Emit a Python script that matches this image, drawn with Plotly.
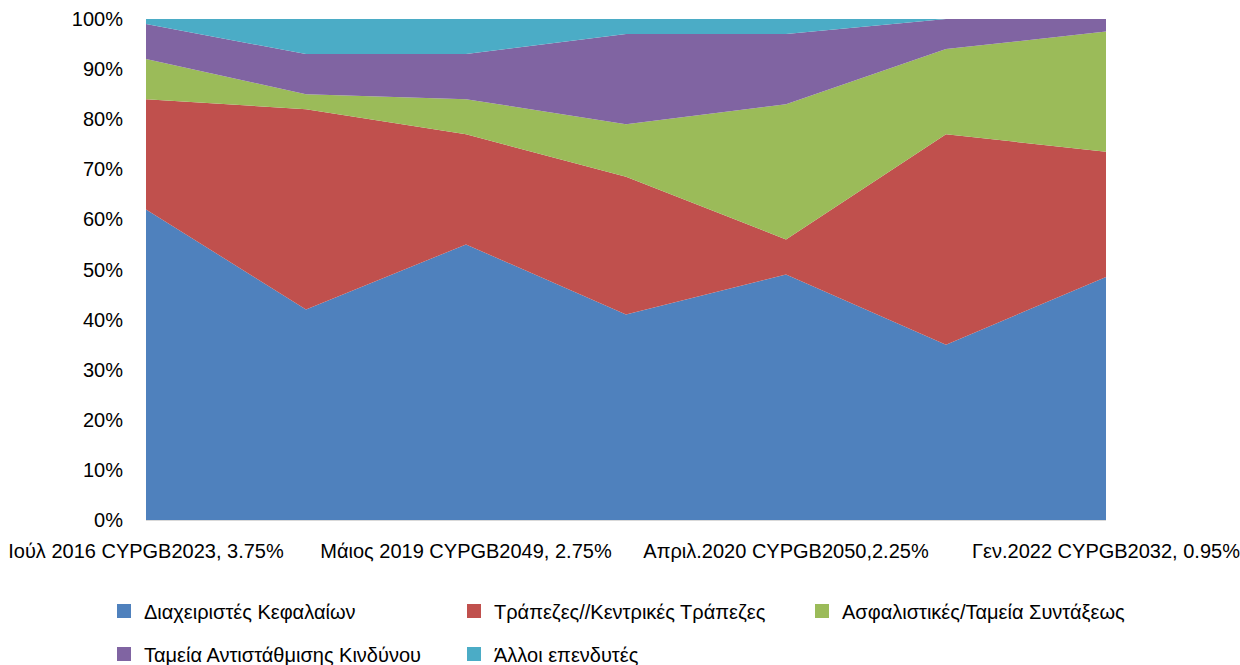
import plotly.graph_objects as go

# Bond issues (only every other one is labelled on the axis)
categories = [
    "Ιούλ 2016 CYPGB2023, 3.75%",
    "Ιούν 2017 CYPGB2024, 2.375%",
    "Μάιος 2019 CYPGB2049, 2.75%",
    "Απριλ.2020 CYPGB2027, 1.50%",
    "Απριλ.2020 CYPGB2050,2.25%",
    "Γεν.2021 CYPGB2031, 0.625%",
    "Γεν.2022 CYPGB2032, 0.95%",
]
shown_ticks = [categories[0], categories[2], categories[4], categories[6]]

# Investor allocation per issue (%)
fund_managers = [62, 42, 55, 41, 49, 35, 48.5]
banks_central = [22, 40, 22, 27.5, 7, 42, 25]
insurance_pension = [8, 3, 7, 10.5, 27, 17, 24]
hedge_funds = [7, 8, 9, 18, 14, 6, 2.5]
other_investors = [1, 7, 7, 3, 3, 0, 0]

series_names = [
    "Διαχειριστές Κεφαλαίων",
    "Τράπεζες//Κεντρικές Τράπεζες",
    "Ασφαλιστικές/Ταμεία Συντάξεως",
    "Ταμεία Αντιστάθμισης Κινδύνου",
    "Άλλοι επενδυτές",
]
series_values = [fund_managers, banks_central, insurance_pension,
                 hedge_funds, other_investors]
series_colors = ["#4F81BD", "#C0504D", "#9BBB59", "#8064A2", "#4BACC6"]

FONT = "Liberation Sans, Arial, sans-serif"
FS = 20
W, H = 1240, 665

# legend grid: three columns, two rows (pixel positions of each entry)
legend_cols = [104, 454, 802]
legend_rows = [611, 654]

fig = go.Figure()
legend_layouts = {}
for i, (name, values, color) in enumerate(zip(series_names, series_values, series_colors)):
    fig.add_trace(go.Scatter(
        x=categories, y=values, name=name,
        mode="lines", stackgroup="one", groupnorm="percent",
        line=dict(width=0, color=color), fillcolor=color,
        showlegend=False, hoverinfo="x+y+name",
    ))
    leg_id = "legend" if i == 0 else f"legend{i + 1}"
    # square legend key
    fig.add_trace(go.Scatter(
        x=[None], y=[None], name=name, mode="markers",
        marker=dict(symbol="square", size=14, color=color),
        showlegend=True, legend=leg_id,
    ))
    legend_layouts[leg_id] = dict(
        orientation="h", xref="container", yref="container",
        xanchor="left", yanchor="middle",
        x=legend_cols[i % 3] / W, y=1 - legend_rows[i // 3] / H,
        itemwidth=30,
        font=dict(family=FONT, size=FS, color="#000000"),
        bgcolor="rgba(0,0,0,0)",
    )

fig.update_layout(
    width=W, height=H,
    margin=dict(l=146, r=134, t=19, b=145, autoexpand=False),
    paper_bgcolor="white", plot_bgcolor="white",
    font=dict(family=FONT, size=FS, color="#000000"),
    xaxis=dict(
        type="category", range=[0, 6], automargin=False,
        tickmode="array", tickvals=shown_ticks, ticktext=shown_ticks,
        showgrid=False, zeroline=False,
        showline=True, linecolor="#D9D9D9", linewidth=1,
        ticks="", ticklabelstandoff=13,
    ),
    yaxis=dict(
        range=[0, 100], dtick=10, ticksuffix="%", automargin=False,
        showgrid=False, zeroline=False, showline=False,
        ticks="", ticklabelstandoff=22,
    ),
    **legend_layouts,
)

fig.write_html("out.html")
